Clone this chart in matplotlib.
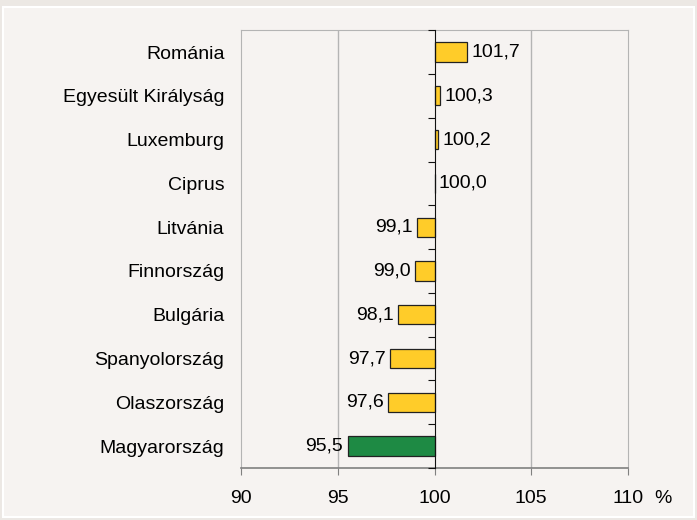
import numpy as np
import matplotlib
matplotlib.use('Agg')
import matplotlib.pyplot as plt
from matplotlib.patches import Rectangle

plt.rcParams['font.family'] = ['Liberation Sans Narrow', 'Liberation Sans', 'DejaVu Sans']

# data, top to bottom
countries = ['Románia', 'Egyesült Királyság', 'Luxemburg', 'Ciprus', 'Litvánia',
             'Finnország', 'Bulgária', 'Spanyolország', 'Olaszország', 'Magyarország']
values = [101.7, 100.3, 100.2, 100.0, 99.1, 99.0, 98.1, 97.7, 97.6, 95.5]
xticks = [90, 95, 100, 105, 110]
base = 100

yellow = '#ffcc29'
green = '#1e8a44'
bg = '#f6f3f1'
fs = 14

fig = plt.figure(figsize=(6.97, 5.2), dpi=100, facecolor='#ece8e4')
fig.patches.append(Rectangle((0.005, 0.006), 0.99, 0.98, transform=fig.transFigure,
                             facecolor=bg, edgecolor='white', linewidth=1.5, zorder=-10))
ax = fig.add_axes([0.346, 0.1, 0.555, 0.842])
ax.set_facecolor(bg)

n = len(countries)
ypos = np.arange(n)[::-1]
colors = [yellow] * (n - 1) + [green]
widths = [v - base for v in values]
ax.barh(ypos, widths, left=base, height=0.44, color=colors,
        edgecolor='#222222', linewidth=0.9, zorder=3)

for y, v in zip(ypos, values):
    lab = f'{v:.1f}'.replace('.', ',')
    if v >= base:
        ax.text(v + 0.22, y, lab, ha='left', va='center', fontsize=fs)
    else:
        ax.text(v - 0.22, y, lab, ha='right', va='center', fontsize=fs)

ax.set_xlim(90, 110)
ax.set_ylim(-0.5, n - 0.5)
ax.set_xticks(xticks)
ax.set_xticklabels([str(t) for t in xticks], fontsize=fs)
ax.tick_params(axis='x', length=5, color='#808080', pad=11)
ax.set_yticks(ypos)
ax.set_yticklabels(countries, fontsize=fs)
ax.tick_params(axis='y', length=0, pad=12)

for t in [95, 105]:
    ax.axvline(t, color='#b4b4b4', linewidth=1, zorder=1)
for s in ['left', 'top', 'right']:
    ax.spines[s].set_color('#b4b4b4')
ax.spines['bottom'].set_color('#808080')
ax.spines['bottom'].set_linewidth(1.2)

# axis line at 100 with ticks between categories
ax2 = ax.twinx()
ax2.set_ylim(ax.get_ylim())
ax2.spines['left'].set_position(('data', base))
ax2.spines['left'].set_color('#111111')
ax2.spines['left'].set_zorder(4)
for s in ['right', 'top', 'bottom']:
    ax2.spines[s].set_visible(False)
ax2.yaxis.set_ticks_position('left')
ax2.set_yticks(np.arange(n + 1) - 0.5)
ax2.set_yticklabels([])
ax2.tick_params(axis='y', length=5, color='#111111')
ax2.set_xlim(90, 110)

ax.text(1.09, -0.07, '%', transform=ax.transAxes, ha='center', va='center', fontsize=fs)

fig.savefig('out.png', dpi=100, facecolor=fig.get_facecolor())
